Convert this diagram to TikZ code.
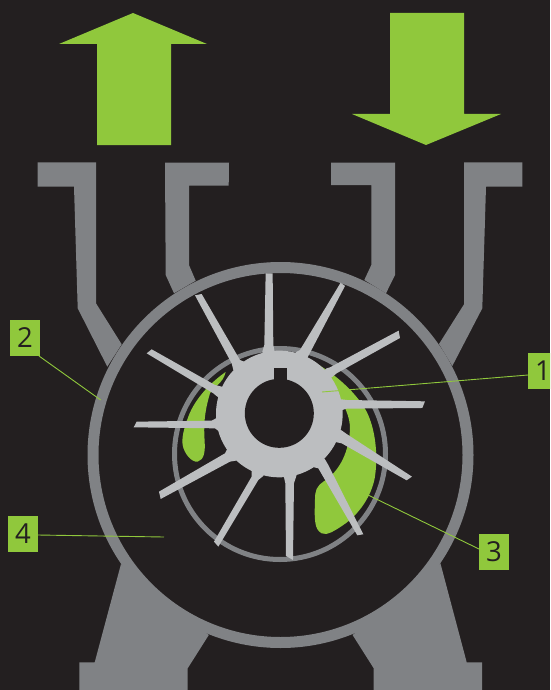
\documentclass[tikz,border=0pt]{standalone}
\usepackage{fontspec}
\setmainfont{Open Sans}
\definecolor{bgdark}{HTML}{231F20}
\definecolor{housing}{HTML}{808285}
\definecolor{rotorgray}{HTML}{BCBEC0}
\definecolor{lime}{HTML}{90C83C}
\tikzset{
  housingpart/.style={fill=housing},
  bladepart/.style={fill=rotorgray},
  limepart/.style={fill=lime},
  leader/.style={draw=lime,line width=0.9pt},
  numbox/.style={fill=lime,text=bgdark,minimum width=30pt,minimum height=36pt,inner sep=0pt,font=\fontsize{27.5}{27.5}\selectfont}
}
\begin{document}
\begin{tikzpicture}[x=1pt,y=-1pt]
\useasboundingbox (0,0) rectangle (550,690);
\clip (0,0) rectangle (550,690);
\fill[bgdark] (0,0) rectangle (550,690);
% arrows
\fill[limepart] (133,13) -- (207,44) -- (171,44) -- (171,145) -- (97,145) -- (97,44) -- (59,44) -- cycle;
\fill[limepart] (390,13) -- (464,13) -- (464,114) -- (501,114) -- (426,145) -- (352,114) -- (390,114) -- cycle;
% ports
\fill[housingpart] (37.7,162.3) -- (96,162.3) -- (96,303.3) -- (121.7,344.3) -- (107.3,366.7) -- (77.7,308.3) -- (74,186.7) -- (37.7,186.7) -- cycle;
\fill[housingpart] (165,162.7) -- (229,162.7) -- (228.7,185.7) -- (189,185.7) -- (189,265) -- (195.7,280.7) -- (174,293.3) -- (165.7,275) -- cycle;
\fill[housingpart] (331,162.7) -- (395,162.7) -- (395,275) -- (386,293.3) -- (364.3,280) -- (371.3,265) -- (371.3,185) -- (331,185) -- cycle;
\fill[housingpart] (464,162.3) -- (522.3,162.3) -- (522.3,186.7) -- (486,186.7) -- (482.3,308.3) -- (452.3,366) -- (439,344) -- (464,304.3) -- cycle;
% feet
\fill[housingpart] (121,564) -- (94.7,662.3) -- (79.3,662.3) -- (79.3,690) -- (187.7,690) -- (187.7,668.3) -- (208.8,635) -- cycle;
\fill[housingpart] (440.4,563.3) -- (466.7,662.3) -- (482.1,662.3) -- (482.1,690) -- (373.7,690) -- (373.7,668.3) -- (352.6,635) -- cycle;
% casing and inner ring
\draw[housing,fill=bgdark,line width=11pt] (280.5,455) circle[radius=187.5];
\draw[housing,line width=5pt] (280,454) circle[radius=105.5];
\begin{scope}[shift={(130,270)},x=0.3333pt,y=-0.3333pt]
% green blobs
\fill[limepart] (287,306) .. controls (245,335) and (195,385) .. (175,440) .. controls (160,480) and (155,505) .. (158,525) .. controls (162,550) and (185,578) .. (203,575) .. controls (222,570) and (226,545) .. (224,515) .. controls (221,470) and (222,430) .. (240,370) .. controls (250,350) and (280,340) .. (287,306) -- cycle;
\fill[limepart] (555,278) .. controls (620,315) and (680,370) .. (710,425) .. controls (735,475) and (745,550) .. (735,620) .. controls (725,680) and (685,735) .. (640,765) .. controls (615,782) and (590,798) .. (575,790) .. controls (553,778) and (553,750) .. (555,690) .. controls (555,660) and (560,650) .. (580,635) .. controls (620,610) and (655,560) .. (660,480) .. controls (662,440) and (640,400) .. (620,370) -- (500,330) -- cycle;
% rotor
\fill[bladepart] (448,432) circle[radius=190];
\fill[bladepart] (448,432) -- (397,245) -- (403,225) -- (407,10) -- (428,10) -- (430,225) -- (433,240) -- cycle;
\fill[bladepart] (448,432) -- (497,247) -- (510,240) -- (632,38) -- (645,48) -- (535,258) -- cycle;
\fill[bladepart] (448,432) -- (590,295) -- (600,292) -- (806,182) -- (810,204) -- (620,310) -- (608,320) -- cycle;
\fill[bladepart] (448,432) -- (635,388) -- (650,390) -- (885,394) -- (877,414) -- (650,416) -- (637,420) -- cycle;
\fill[bladepart] (448,432) -- (633,480) -- (650,492) -- (846,620) -- (830,631) -- (635,520) -- (620,517) -- cycle;
\fill[bladepart] (448,432) -- (585,568) -- (595,585) -- (700,793) -- (682,796) -- (565,595) -- (552,592) -- cycle;
\fill[bladepart] (448,432) -- (500,615) -- (492,640) -- (489,870) -- (468,858) -- (466,640) -- (462,622) -- cycle;
\fill[bladepart] (448,432) -- (400,618) -- (385,630) -- (265,830) -- (252,815) -- (365,620) -- (365,605) -- cycle;
\fill[bladepart] (448,432) -- (318,572) -- (300,575) -- (92,687) -- (87,665) -- (285,550) -- (290,540) -- cycle;
\fill[bladepart] (448,432) -- (268,485) -- (255,475) -- (11,472) -- (20,455) -- (245,452) -- (258,445) -- cycle;
\fill[bladepart] (448,432) -- (262,380) -- (250,370) -- (50,250) -- (65,238) -- (255,345) -- (275,350) -- cycle;
\fill[bladepart] (448,432) -- (310,300) -- (305,280) -- (195,76) -- (215,72) -- (330,270) -- (342,275) -- cycle;
% bore and keyway
\fill[bgdark] (448,430) circle[radius=103.5];
\fill[bgdark] (432,294) rectangle (471,335);
\end{scope}
% labels
\node[numbox] (lab1) at (543,371) {1};
\node[numbox] (lab2) at (25,338) {2};
\node[numbox] (lab3) at (494,552) {3};
\node[numbox] (lab4) at (23,534) {4};
% leaders
\coordinate (a1) at (528,375); \coordinate (b1) at (322,392);
\coordinate (a2) at (39,356);  \coordinate (b2) at (100.7,400);
\coordinate (a3) at (479,549); \coordinate (b3) at (368,495);
\coordinate (a4) at (38,535);  \coordinate (b4) at (164,537);
\draw[leader] (a1) -- (b1);
\draw[leader] (a2) -- (b2);
\draw[leader] (a3) -- (b3);
\draw[leader] (a4) -- (b4);
\end{tikzpicture}
\end{document}
